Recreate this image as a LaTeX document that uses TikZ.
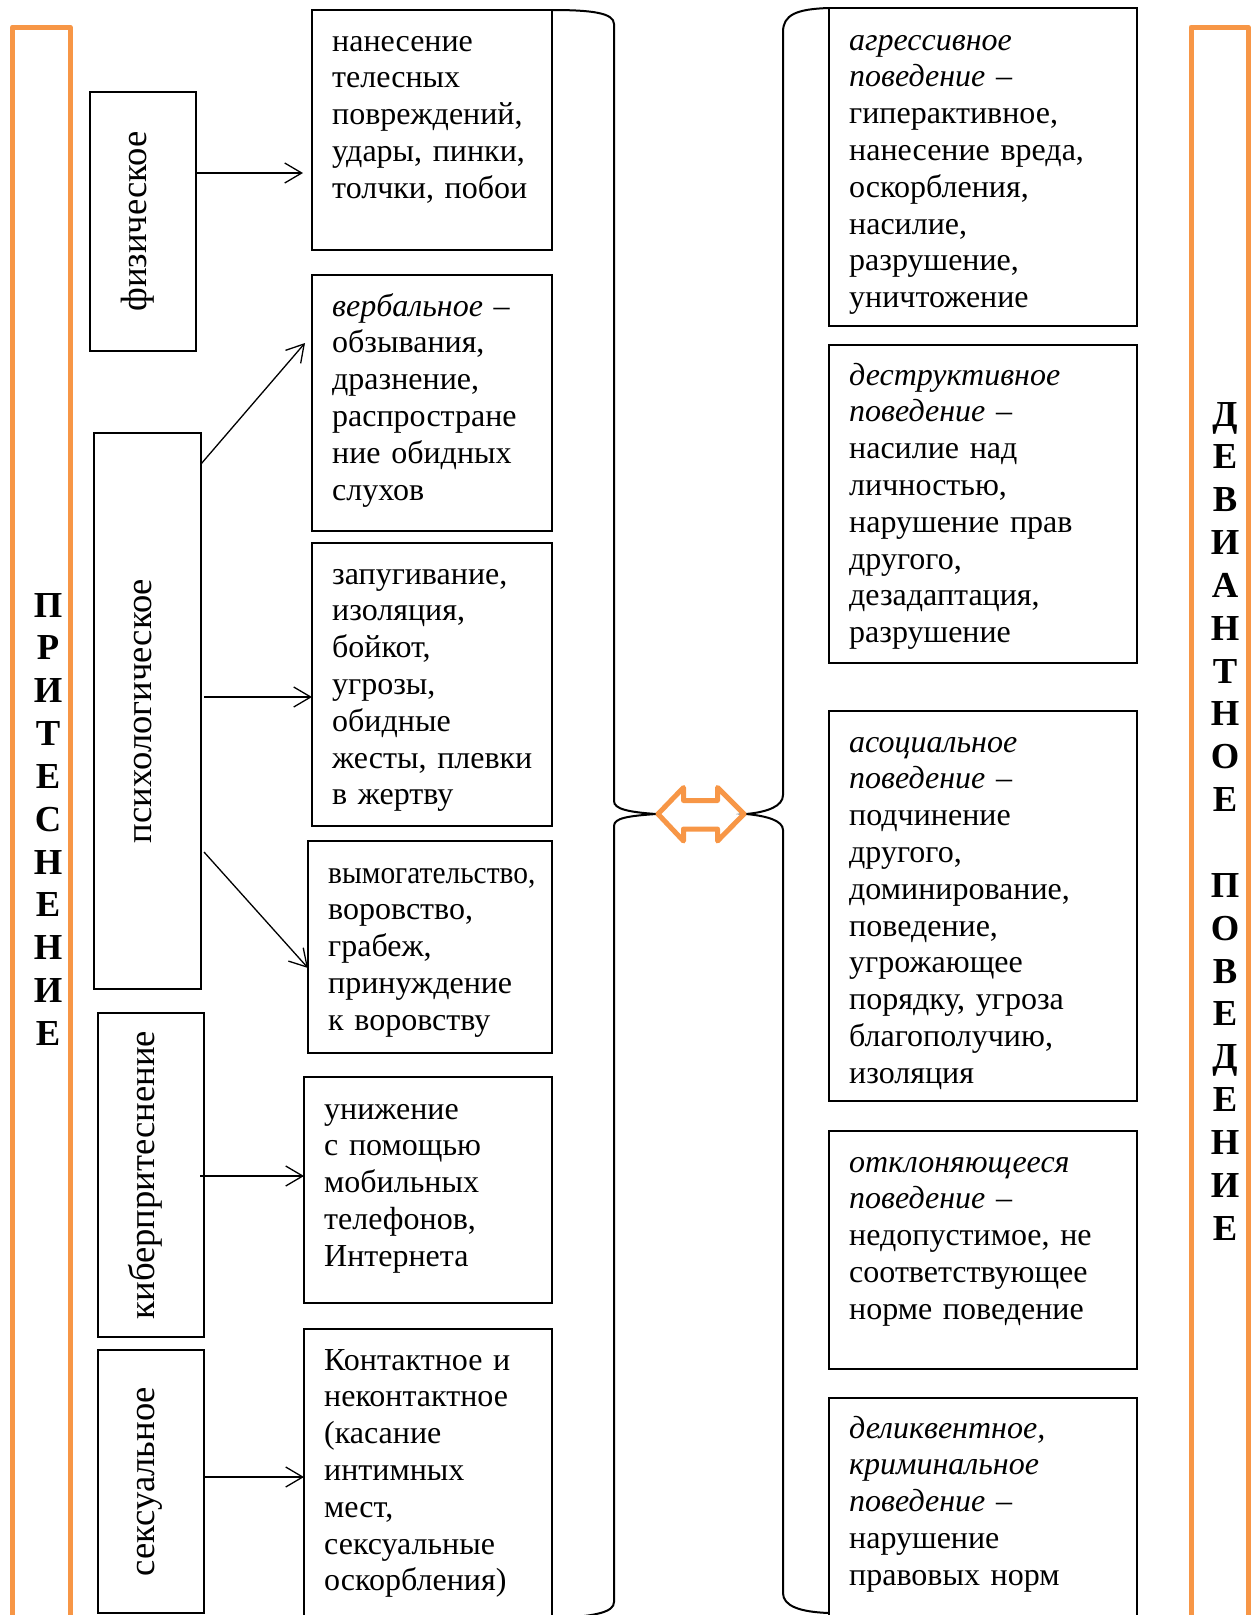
\documentclass[tikz,border=0pt]{standalone}
\usepackage{fontspec}
\setmainfont{Liberation Serif}
\usetikzlibrary{arrows.meta,calc}
\definecolor{orng}{RGB}{247,150,70}
\begin{document}
\begin{tikzpicture}[x=1pt,y=-1pt,
  box/.style={draw, line width=1.1pt, inner sep=0pt, outer sep=0pt, anchor=north west},
  frame/.style={draw=orng, line width=5pt, line join=round, inner sep=0pt, outer sep=0pt, anchor=north west},
  txt/.style={anchor=base west, inner sep=0pt, text width=300pt, align=left, font=\fontsize{32}{36.8}\selectfont},
  rl/.style={rotate=90, anchor=base, inner sep=0pt, font=\fontsize{36.6}{42}\selectfont},
  ol/.style={anchor=base, inner sep=0pt, text width=50pt, align=center, font=\bfseries\fontsize{36.6}{42.85}\selectfont},
  arr/.style={line width=1.3pt, -{Straight Barb[length=17pt,width=20pt,line width=1.3pt]}},
  brace/.style={line width=2pt}
]
\useasboundingbox (0,0) rectangle (1252,1615);

% orange frames
\node[frame, minimum width=57.5pt, minimum height=1620pt] (lframe) at (12.5,27) {};
\node[frame, minimum width=57pt, minimum height=1620pt] (rframe) at (1191,27) {};
\node[ol] (ltext) at (48,617) {П\\Р\\И\\Т\\Е\\С\\Н\\Е\\Н\\И\\Е};
\node[ol] (rtext) at (1225,426) {Д\\Е\\В\\И\\А\\Н\\Т\\Н\\О\\Е\\\mbox{}\\П\\О\\В\\Е\\Д\\Е\\Н\\И\\Е};

% left category boxes
\node[box, minimum width=106pt, minimum height=259pt] (phys) at (90,92) {};
\node[box, minimum width=107pt, minimum height=556pt] (psych) at (94,433) {};
\node[box, minimum width=106pt, minimum height=324pt] (kib) at (98,1013) {};
\node[box, minimum width=106pt, minimum height=263pt] (sex) at (98,1350) {};
\node[rl] (physl) at (146,221.5) {физическое};
\node[rl] (psychl) at (151,711) {психологическое};
\node[rl] (kibl) at (154,1175) {киберпритеснение};
\node[rl] (sexl) at (154,1481.5) {сексуальное};

% middle boxes
\node[box, minimum width=240pt, minimum height=240pt] (b1) at (312,10) {};
\node[box, minimum width=240pt, minimum height=256pt] (b2) at (312,275) {};
\node[box, minimum width=240pt, minimum height=283pt] (b3) at (312,543) {};
\node[box, minimum width=244pt, minimum height=212pt] (b4) at (308,841) {};
\node[box, minimum width=248pt, minimum height=226pt] (b5) at (304,1077) {};
\node[box, minimum width=248pt, minimum height=300pt] (b6) at (304,1329) {};

\node[txt] (b1t) at ($(b1.north west)+(20,41)$) {нанесение\\телесных\\повреждений,\\удары, пинки,\\толчки, побои};
\node[txt] (b2t) at ($(b2.north west)+(20,41)$) {\textit{вербальное} –\\обзывания,\\дразнение,\\распростране\\ние обидных\\слухов};
\node[txt] (b3t) at ($(b3.north west)+(20,41)$) {запугивание,\\изоляция,\\бойкот,\\угрозы,\\обидные\\жесты, плевки\\в жертву};
\node[txt] (b4t) at ($(b4.north west)+(20,42)$) {\scalebox{0.92}[1]{вымогательство,}\\воровство,\\грабеж,\\принуждение\\к воровству};
\node[txt] (b5t) at ($(b5.north west)+(20,42)$) {унижение\\с помощью\\мобильных\\телефонов,\\Интернета};
\node[txt] (b6t) at ($(b6.north west)+(20,41)$) {Контактное и\\неконтактное\\(касание\\интимных\\мест,\\сексуальные\\оскорбления)};

% right boxes
\node[box, minimum width=308pt, minimum height=318pt] (r1) at (829,8) {};
\node[box, minimum width=308pt, minimum height=318pt] (r2) at (829,345) {};
\node[box, minimum width=308pt, minimum height=390pt] (r3) at (829,711) {};
\node[box, minimum width=308pt, minimum height=238pt] (r4) at (829,1131) {};
\node[box, minimum width=308pt, minimum height=230pt] (r5) at (829,1398) {};

\node[txt] (r1t) at ($(r1.north west)+(20,42)$) {\textit{агрессивное}\\\textit{поведение} –\\гиперактивное,\\нанесение вреда,\\оскорбления,\\насилие,\\разрушение,\\уничтожение};
\node[txt] (r2t) at ($(r2.north west)+(20,40)$) {\textit{деструктивное}\\\textit{поведение} –\\насилие над\\личностью,\\нарушение прав\\другого,\\дезадаптация,\\разрушение};
\node[txt] (r3t) at ($(r3.north west)+(20,41)$) {\textit{асоциальное}\\\textit{поведение} –\\подчинение\\другого,\\доминирование,\\поведение,\\угрожающее\\порядку, угроза\\благополучию,\\изоляция};
\node[txt] (r4t) at ($(r4.north west)+(20,41)$) {\textit{отклоняющееся}\\\textit{поведение} –\\недопустимое, не\\соответствующее\\норме поведение};
\node[txt] (r5t) at ($(r5.north west)+(20,40)$) {\textit{деликвентное,}\\\textit{криминальное}\\\textit{поведение} –\\нарушение\\правовых норм};

% arrows
\draw[arr] (phys.east |- 0,173) -- ($(b1.west |- 0,173)+(-9,0)$);
\draw[arr] ($(psych.north east)+(0,31)$) -- ($(b2.north west)+(-7,68)$);
\draw[arr] ($(psych.east |- 0,697)+(3,0)$) -- (b3.west |- 0,697);
\draw[arr] ($(psych.east |- 0,852)+(3,0)$) -- (b4.west |- 0,968);
\draw[arr] ($(kib.east |- 0,1176)+(-4,0)$) -- (b5.west |- 0,1176);
\draw[arr] ($(sex.east |- 0,1477)+(-1,0)$) -- (b6.west |- 0,1477);

% braces
\coordinate (ltip) at (656,814);
\coordinate (rtip) at (746,814);
\draw[brace] (b1.north east) .. controls (592,10) and (614,13) .. (614,24)
  -- (614,801) .. controls (614,809) and (628,812) .. (ltip)
  .. controls (628,816) and (614,818) .. (614,826)
  -- (614,1602) .. controls (614,1612) and (596,1616) .. (560,1618);
\draw[brace] (r1.north west) .. controls (796,9) and (783,15) .. (783,32)
  -- (783,795) .. controls (783,806) and (768,812) .. (rtip)
  .. controls (768,816) and (783,821) .. (783,830)
  -- (783,1593) .. controls (783,1606) and (800,1612) .. (829,1613);

% orange double arrow
\draw[orng, line width=5pt, line join=round] (658,814) -- (683.5,787.5) -- (683.5,800.5) -- (717.5,800.5) -- (717.5,787.5) -- (744,814) -- (717.5,841) -- (717.5,829) -- (683.5,829) -- (683.5,841) -- cycle;
\end{tikzpicture}
\end{document}
